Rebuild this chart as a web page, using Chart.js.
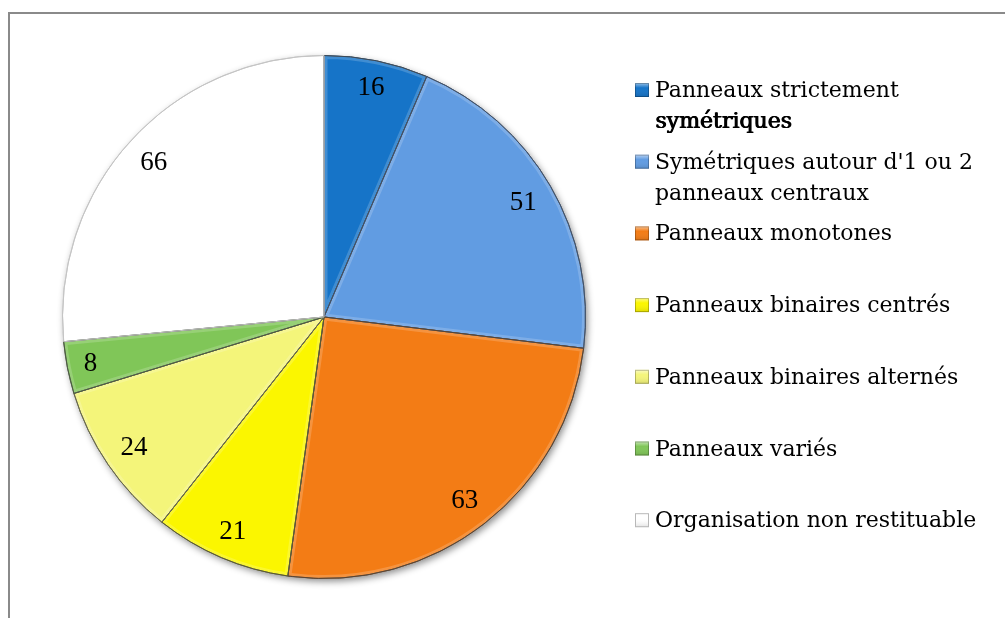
<!DOCTYPE html>
<html>
<head>
<meta charset="utf-8">
<title>Répartition des panneaux</title>
<script src="https://cdn.jsdelivr.net/npm/chart.js@4.4.1/dist/chart.umd.min.js"></script>
<style>
  html, body { margin: 0; padding: 0; background: #ffffff; overflow: hidden; }
  #wrap { position: relative; width: 1005px; height: 618px; }
  #frame { position: absolute; left: 8px; top: 12px; width: 1100px; height: 700px;
           border: 2px solid #8a8a8a; box-sizing: border-box; }
  #c { position: absolute; left: 0; top: 0; }
</style>
</head>
<body>
<div id="wrap">
  <div id="frame"></div>
  <canvas id="c" width="1005" height="618"></canvas>
</div>
<script>
// Categories and counts of the pie
const categories = [
  'Panneaux strictement symétriques',
  "Symétriques autour d'1 ou 2 panneaux centraux",
  'Panneaux monotones',
  'Panneaux binaires centrés',
  'Panneaux binaires alternés',
  'Panneaux variés',
  'Organisation non restituable'
];
const counts = [16, 51, 63, 21, 24, 8, 66];

// Slice fills and outlines
const sliceColors = ['#1674C8', '#619CE2', '#F37C15', '#FBF600', '#F4F57A', '#80C658', '#FFFFFF'];
const sliceEdges  = ['#3a4a5a', '#3f5068', '#5a4330', '#5a5a30', '#66664a', '#4a5a40', '#c4c4c4'];

// Soft drop shadow under the whole disc
const pieShadow = {
  id: 'pieShadow',
  beforeDatasetsDraw(chart) {
    const arc = chart.getDatasetMeta(0).data[0];
    if (!arc) return;
    const { x, y, outerRadius } = arc.getProps(['x', 'y', 'outerRadius'], true);
    const ctx = chart.ctx;
    ctx.save();
    ctx.shadowColor = 'rgba(0,0,0,0.45)';
    ctx.shadowBlur = 7;
    ctx.shadowOffsetX = 2;
    ctx.shadowOffsetY = 3;
    ctx.beginPath();
    ctx.arc(x, y, outerRadius, 0, Math.PI * 2);
    ctx.fillStyle = '#ffffff';
    ctx.fill();
    ctx.restore();
  }
};

// Light rim inside each coloured slice, then its thin outline
const sliceBevel = {
  id: 'sliceBevel',
  afterDatasetsDraw(chart) {
    const ctx = chart.ctx;
    chart.getDatasetMeta(0).data.forEach((arc, i) => {
      const { x, y, startAngle, endAngle, outerRadius } =
        arc.getProps(['x', 'y', 'startAngle', 'endAngle', 'outerRadius'], true);
      ctx.save();
      ctx.beginPath();
      ctx.moveTo(x, y);
      ctx.arc(x, y, outerRadius, startAngle, endAngle);
      ctx.closePath();
      if (sliceColors[i] !== '#FFFFFF') {
        ctx.save();
        ctx.clip();
        ctx.lineWidth = 7;
        ctx.strokeStyle = 'rgba(255,255,255,0.18)';
        ctx.stroke();
        ctx.restore();
      }
      ctx.lineWidth = 1;
      ctx.strokeStyle = sliceEdges[i];
      ctx.stroke();
      ctx.restore();
    });
  }
};

// Value labels placed near the outer edge of each slice
const valueLabels = {
  id: 'valueLabels',
  afterDatasetsDraw(chart) {
    const ctx = chart.ctx;
    const values = chart.data.datasets[0].data;
    ctx.save();
    ctx.font = '27px "Liberation Serif", serif';
    ctx.fillStyle = '#000000';
    ctx.textAlign = 'center';
    ctx.textBaseline = 'middle';
    chart.getDatasetMeta(0).data.forEach((arc, i) => {
      const { x, y, startAngle, endAngle, outerRadius } =
        arc.getProps(['x', 'y', 'startAngle', 'endAngle', 'outerRadius'], true);
      const mid = (startAngle + endAngle) / 2;
      const text = String(values[i]);
      const w = ctx.measureText(text).width;
      const h = 19;
      const support = Math.abs(w / 2 * Math.cos(mid)) + Math.abs(h / 2 * Math.sin(mid));
      const d = outerRadius - 15 - support;
      ctx.fillText(text, x + d * Math.cos(mid), y + d * Math.sin(mid) + 1);
    });
    ctx.restore();
  }
};

// Legend on the right, wrapped to a fixed width
const sideLegend = {
  id: 'sideLegend',
  afterDraw(chart, args, opts) {
    const ctx = chart.ctx;
    const labels = chart.data.labels;
    ctx.save();
    ctx.textAlign = 'left';
    ctx.textBaseline = 'alphabetic';
    labels.forEach((label, i) => {
      const base = opts.firstBaseline + i * opts.step;
      // marker
      const mx = opts.markerX, my = base - opts.markerSize;
      const g = ctx.createLinearGradient(mx, my, mx, my + opts.markerSize);
      g.addColorStop(0, 'rgba(255,255,255,0.55)');
      g.addColorStop(0.35, 'rgba(255,255,255,0)');
      g.addColorStop(1, 'rgba(0,0,0,0.12)');
      ctx.fillStyle = sliceColors[i];
      ctx.fillRect(mx, my, opts.markerSize, opts.markerSize);
      ctx.fillStyle = g;
      ctx.fillRect(mx, my, opts.markerSize, opts.markerSize);
      ctx.strokeStyle = sliceColors[i] === '#FFFFFF' ? '#b8b8b8' : 'rgba(0,0,0,0.25)';
      ctx.lineWidth = 1;
      ctx.strokeRect(mx + 0.5, my + 0.5, opts.markerSize - 1, opts.markerSize - 1);
      // wrapped text
      ctx.font = opts.font;
      const words = label.split(' ');
      const lines = [];
      let cur = '';
      words.forEach(wd => {
        const t = cur ? cur + ' ' + wd : wd;
        if (ctx.measureText(t).width > opts.maxWidth && cur) { lines.push(cur); cur = wd; }
        else cur = t;
      });
      if (cur) lines.push(cur);
      ctx.fillStyle = '#000000';
      lines.forEach((ln, j) => {
        const y = base + j * opts.lineHeight;
        ctx.fillText(ln, opts.textX, y);
        // the wrapped part of the first entry is set slightly heavier
        if (i === 0 && j > 0) {
          ctx.fillText(ln, opts.textX + 0.5, y);
          ctx.fillText(ln, opts.textX + 1, y);
        }
      });
    });
    ctx.restore();
  }
};

new Chart(document.getElementById('c'), {
  type: 'pie',
  data: {
    labels: categories,
    datasets: [{
      data: counts,
      backgroundColor: sliceColors,
      borderColor: sliceEdges,
      borderWidth: 1
    }]
  },
  options: {
    responsive: false,
    animation: false,
    devicePixelRatio: 1,
    layout: { padding: { left: 62, top: 55, right: 419, bottom: 39 } },
    plugins: {
      legend: { display: false },
      tooltip: { enabled: false },
      sideLegend: {
        firstBaseline: 97,
        step: 71.7,
        lineHeight: 31,
        markerX: 635,
        markerSize: 14,
        textX: 655,
        maxWidth: 340,
        font: '22px "DejaVu Serif", serif'
      }
    }
  },
  plugins: [pieShadow, sliceBevel, valueLabels, sideLegend]
});
</script>
</body>
</html>
